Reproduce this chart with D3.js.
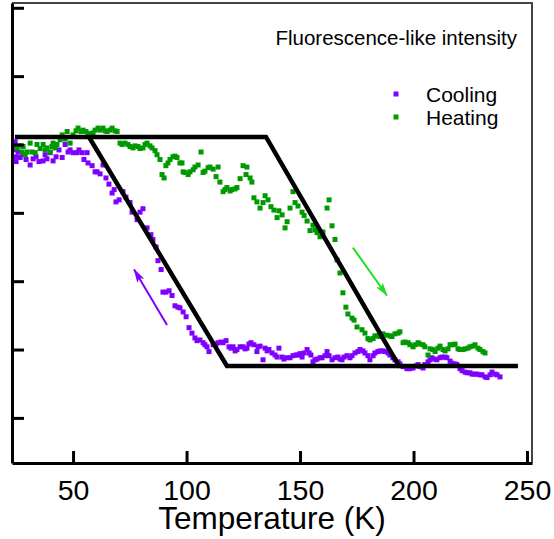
<!DOCTYPE html>
<html>
<head>
<meta charset="utf-8">
<script src="https://cdn.jsdelivr.net/npm/d3@7"></script>
<style>
  html, body { margin: 0; padding: 0; background: #fff; }
  svg { display: block; font-family: "Liberation Sans", Arial, sans-serif; }
</style>
</head>
<body>
<div id="chart"></div>
<script>
// temperature (K), intensity (a.u.)
const cooling = [
  [24.5,4.04],[24.5,3.92],[24.9,3.97],[24.9,3.82],[24.9,3.75],[25.8,3.89],[26.7,3.81],[28.0,3.85],[29.3,3.78],
  [31.1,3.70],[32.4,3.79],[33.7,3.82],[35.0,3.75],[36.8,3.76],[37.7,3.85],[38.5,3.79],[39.9,3.88],[41.2,3.76],
  [42.5,3.82],[43.8,3.92],[45.2,3.81],[46.5,4.00],[47.8,3.89],[48.7,3.92],[50.0,3.88],[51.8,3.88],[52.6,3.92],
  [54.0,3.88],[54.8,3.78],[56.2,3.88],[56.6,3.73],[58.4,3.69],[59.7,3.60],[60.6,3.60],[61.9,3.57],[63.2,3.70],
  [64.5,3.51],[65.8,3.42],[67.2,3.29],[68.1,3.34],[68.9,3.16],[70.3,3.19],[72.0,3.31],[73.3,3.23],[75.1,3.15],
  [76.0,3.01],[78.2,2.90],[79.5,3.01],[80.8,3.06],[82.6,2.78],[84.3,2.68],[85.2,2.61],[86.6,2.50],[87.4,2.30],
  [88.8,2.17],[89.6,1.84],[90.9,1.84],[92.3,1.86],[93.6,1.79],[94.9,1.64],[96.2,1.62],[97.1,1.61],[98.5,1.55],
  [99.8,1.48],[101.1,1.32],[102.4,1.24],[103.7,1.17],[104.6,1.13],[105.9,1.14],[107.3,1.10],[108.1,1.07],
  [109.0,1.04],[109.9,0.97],[111.7,1.07],[113.0,1.08],[113.9,1.10],[115.2,1.11],[116.1,1.10],[117.4,1.13],
  [118.7,1.04],[119.6,1.02],[120.5,1.04],[121.4,0.98],[122.2,1.00],[123.6,1.04],[124.9,1.04],[125.8,1.01],
  [126.6,1.02],[127.5,1.08],[128.4,1.10],[129.7,1.07],[131.0,0.97],[131.5,1.04],[132.4,1.05],[133.7,0.85],
  [134.6,1.02],[135.5,0.98],[136.3,1.00],[137.7,0.95],[139.0,0.92],[139.9,0.89],[140.7,1.02],[142.1,0.89],
  [142.9,0.86],[144.3,0.88],[145.6,0.88],[146.9,0.91],[148.2,0.92],[149.1,0.92],[150.0,0.94],[150.9,0.89],
  [151.8,0.95],[153.1,1.00],[154.0,0.95],[154.8,0.92],[155.7,0.82],[156.6,0.85],[157.5,0.86],[158.8,0.88],
  [159.7,0.88],[161.0,0.91],[161.9,0.97],[162.8,0.91],[164.1,0.85],[165.4,0.88],[166.7,0.89],[167.6,0.86],
  [168.5,0.85],[169.4,0.89],[170.7,0.91],[172.0,0.88],[172.9,0.91],[174.2,0.95],[175.5,0.97],[176.4,1.00],
  [177.7,0.98],[178.6,0.95],[179.9,0.91],[180.8,0.85],[182.2,0.91],[183.0,0.95],[184.3,0.97],[185.2,0.98],
  [186.5,0.98],[187.4,0.97],[188.8,0.95],[189.6,0.92],[190.9,0.88],[191.8,0.85],[193.2,0.82],[194.0,0.79],
  [195.4,0.75],[197.1,0.72],[198.4,0.72],[199.8,0.73],[201.1,0.76],[202.0,0.78],[202.8,0.75],[204.2,0.73],
  [205.0,0.78],[206.4,0.82],[207.3,0.85],[208.1,0.88],[209.5,0.86],[210.3,0.85],[211.7,0.88],[212.5,0.89],
  [213.9,0.89],[214.7,0.88],[216.1,0.83],[216.9,0.80],[218.3,0.79],[219.1,0.78],[220.5,0.72],[221.4,0.69],
  [222.7,0.67],[223.6,0.66],[224.9,0.66],[225.8,0.64],[227.1,0.64],[228.0,0.64],[229.3,0.63],[230.2,0.63],
  [231.5,0.60],[232.4,0.59],[233.7,0.63],[234.6,0.67],[235.9,0.64],[236.8,0.63],[238.1,0.60]
];

const heating = [
  [25.3,3.95],[26.7,3.98],[27.5,3.89],[28.0,3.97],[28.9,3.85],[29.7,3.89],[31.1,4.02],[31.9,3.89],[33.3,3.88],
  [34.1,4.00],[35.5,3.94],[36.8,4.00],[37.7,3.92],[38.5,3.95],[39.9,3.89],[40.7,3.97],[41.2,4.02],[42.1,3.95],
  [42.9,4.00],[44.3,4.07],[45.2,4.14],[46.5,4.08],[47.4,4.19],[48.7,4.02],[50.0,4.14],[51.3,4.20],[52.2,4.24],
  [53.5,4.19],[54.4,4.21],[55.7,4.19],[56.6,4.14],[57.5,4.16],[58.8,4.17],[59.7,4.21],[61.0,4.24],[61.9,4.21],
  [63.2,4.24],[64.1,4.20],[65.0,4.19],[66.3,4.21],[67.2,4.24],[68.5,4.20],[69.4,4.19],[70.7,4.02],[71.6,4.00],
  [72.9,4.02],[74.2,4.00],[75.1,3.97],[76.4,3.95],[77.3,3.98],[78.6,3.97],[79.5,3.94],[80.8,3.95],[81.7,4.00],
  [82.6,4.02],[83.9,3.98],[84.8,3.95],[86.1,3.91],[87.0,3.85],[88.3,3.78],[89.2,3.56],[90.1,3.51],[90.9,3.69],
  [91.8,3.73],[92.7,3.78],[94.0,3.82],[94.9,3.83],[95.8,3.81],[97.1,3.73],[98.0,3.73],[98.5,3.60],[99.3,3.59],
  [100.7,3.56],[101.5,3.60],[102.9,3.63],[103.7,3.67],[105.1,3.70],[106.4,3.89],[107.3,3.59],[108.1,3.61],
  [109.5,3.66],[110.3,3.67],[111.7,3.64],[113.0,3.53],[113.9,3.67],[114.7,3.45],[116.1,3.31],[116.9,3.34],
  [117.8,3.37],[119.2,3.32],[120.0,3.34],[121.4,3.35],[122.2,3.37],[123.6,3.50],[124.9,3.69],[126.2,3.56],
  [126.6,3.67],[128.0,3.51],[128.8,3.45],[129.7,3.22],[131.0,3.16],[132.4,3.07],[133.7,3.15],[134.6,3.25],
  [135.9,3.19],[137.2,3.09],[138.5,3.04],[139.9,2.93],[140.7,3.03],[142.1,2.97],[143.4,2.78],[144.3,2.87],
  [145.6,3.07],[146.9,3.31],[147.8,3.15],[149.1,3.10],[150.9,3.01],[151.8,2.96],[153.1,2.88],[154.4,2.74],
  [155.7,2.82],[156.6,2.75],[157.5,2.71],[158.8,2.65],[160.1,2.72],[161.9,3.07],[162.8,3.19],[164.1,2.81],
  [165.4,2.61],[166.3,2.31],[167.6,2.12],[168.9,1.83],[170.2,1.62],[171.1,1.52],[172.9,1.46],[173.8,1.43],
  [175.1,1.33],[177.3,1.29],[178.6,1.24],[179.9,1.16],[180.8,1.14],[182.2,1.16],[183.0,1.20],[184.3,1.20],
  [185.2,1.19],[186.5,1.23],[188.3,1.21],[189.6,1.20],[190.5,1.19],[191.8,1.23],[193.2,1.24],[194.0,1.26],
  [195.4,1.10],[196.2,1.11],[197.6,1.10],[198.4,1.07],[199.8,1.04],[200.7,1.07],[202.0,1.10],[202.8,1.08],
  [204.2,1.07],[205.0,1.04],[206.4,0.92],[207.3,1.01],[208.6,1.00],[209.5,0.97],[210.8,1.02],[211.7,1.05],
  [213.0,1.00],[213.9,0.98],[215.2,1.01],[216.1,1.07],[217.4,1.07],[218.3,1.08],[219.6,1.01],[220.5,1.00],
  [221.8,1.00],[222.7,1.01],[224.0,1.02],[224.9,1.04],[226.2,1.05],[227.1,1.07],[228.4,1.02],[229.3,1.00],
  [230.6,0.97],[231.5,0.95]
];

// hysteresis guide (black lines)
const guideLines = [
  [[24.4,4.11],[135.0,4.11],[193.6,0.76],[246.0,0.76]],
  [[57.0,4.11],[117.8,0.76],[193.6,0.76]]
];

// direction arrows: [tail, head]
const coolArrow = [[91.4,1.36],[76.9,2.17]];
const heatArrow = [[173.3,2.49],[188.3,1.79]];

const xTicks = [50, 100, 150, 200, 250];
const yTicks = [0, 1, 2, 3, 4, 5, 6];
const seriesNames = ["Cooling", "Heating"];
const colors = ["#7f00ff", "#009a00"]; // purple and green
const arrowColors = ["#7f00ff", "#22dd22"];

const width = 554;
const height = 539;
const margin = { top: 3, right: 22, bottom: 76, left: 12 };

const svg = d3.select("#chart")
  .append("svg")
  .attr("width", width)
  .attr("height", height);

const x = d3.scaleLinear()
  .domain([23.1, 252.2])
  .range([margin.left, width - margin.right]);

const y = d3.scaleLinear()
  .domain([-0.66, 6.07])
  .range([height - margin.bottom, margin.top]);

// top and right frame
svg.append("path")
  .attr("d", `M${x.range()[0]},${y.range()[1]}H${x.range()[1]}V${y.range()[0]}`)
  .attr("fill", "none")
  .attr("stroke", "#444")
  .attr("stroke-width", 2);

// data points
const sq = 5;
[cooling, heating].forEach((data, i) => {
  svg.append("g")
    .selectAll("rect")
    .data(data)
    .join("rect")
    .attr("x", d => x(d[0]) - sq / 2)
    .attr("y", d => y(d[1]) - sq / 2)
    .attr("width", sq)
    .attr("height", sq)
    .attr("fill", colors[i]);
});

// guide lines
const line = d3.line().x(d => x(d[0])).y(d => y(d[1]));
svg.append("g")
  .selectAll("path")
  .data(guideLines)
  .join("path")
  .attr("d", line)
  .attr("fill", "none")
  .attr("stroke", "#000")
  .attr("stroke-width", 4.5)
  .attr("stroke-linejoin", "miter");

// arrows
const defs = svg.append("defs");
arrowColors.forEach((c, i) => {
  defs.append("marker")
    .attr("id", "head" + i)
    .attr("markerUnits", "userSpaceOnUse")
    .attr("viewBox", "0 0 14 8")
    .attr("refX", 13)
    .attr("refY", 4)
    .attr("markerWidth", 14)
    .attr("markerHeight", 8)
    .attr("orient", "auto")
    .append("path")
    .attr("d", "M0,0L14,4L0,8L3,4Z")
    .attr("fill", c);
});
[coolArrow, heatArrow].forEach((a, i) => {
  svg.append("path")
    .attr("d", line(a))
    .attr("stroke", arrowColors[i])
    .attr("stroke-width", 2)
    .attr("fill", "none")
    .attr("marker-end", `url(#head${i})`);
});

// axes
const xAxis = svg.append("g")
  .attr("transform", `translate(0,${y.range()[0]})`)
  .call(d3.axisBottom(x).tickValues(xTicks).tickSizeInner(-12).tickSizeOuter(0).tickPadding(17));
const yAxis = svg.append("g")
  .attr("transform", `translate(${x.range()[0]},0)`)
  .call(d3.axisLeft(y).tickValues(yTicks).tickFormat("").tickSizeInner(-12).tickSizeOuter(0));

[xAxis, yAxis].forEach(g => {
  g.select(".domain").attr("stroke", "#000").attr("stroke-width", 3);
  g.selectAll(".tick line").attr("stroke", "#000").attr("stroke-width", 3);
});
xAxis.selectAll(".tick text")
  .attr("font-size", 28.5)
  .attr("font-family", "Liberation Sans, Arial, sans-serif")
  .attr("fill", "#000");

// axis title
svg.append("text")
  .attr("x", 272)
  .attr("y", 529)
  .attr("text-anchor", "middle")
  .attr("font-size", 31.5)
  .attr("fill", "#000")
  .text("Temperature (K)");

// annotation
svg.append("text")
  .attr("x", 517)
  .attr("y", 45)
  .attr("text-anchor", "end")
  .attr("font-size", 20.5)
  .attr("fill", "#000")
  .text("Fluorescence-like intensity");

// legend
const legend = svg.append("g").attr("transform", "translate(396,94)");
seriesNames.forEach((name, i) => {
  const row = legend.append("g").attr("transform", `translate(0,${i * 23})`);
  row.append("rect")
    .attr("x", -2.5).attr("y", -2.5)
    .attr("width", 5).attr("height", 5)
    .attr("fill", colors[i]);
  row.append("text")
    .attr("x", 30)
    .attr("y", 8)
    .attr("font-size", 21)
    .attr("fill", "#000")
    .text(name);
});
</script>
</body>
</html>
